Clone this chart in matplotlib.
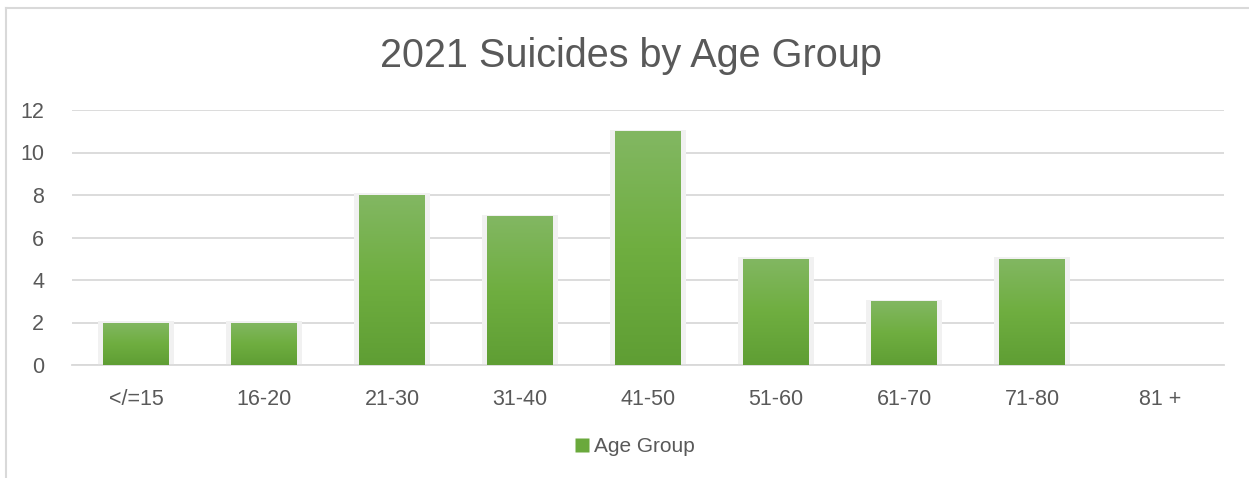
import numpy as np
import matplotlib
matplotlib.use('Agg')
import matplotlib.pyplot as plt
from matplotlib.colors import LinearSegmentedColormap
from matplotlib.patches import Rectangle
from matplotlib.lines import Line2D

# donnees
age_groups = ['</=15', '16-20', '21-30', '31-40', '41-50', '51-60', '61-70', '71-80', '81 +']
suicides = [2, 2, 8, 7, 11, 5, 3, 5, 0]
y_ticks = [0, 2, 4, 6, 8, 10, 12]

plt.rcParams['font.family'] = ['Liberation Sans', 'DejaVu Sans']

fig = plt.figure(figsize=(12.49, 4.78), dpi=100)
ax = fig.add_axes([72 / 1249, 113 / 478, 1152 / 1249, 255 / 478])

x = np.arange(len(age_groups))
bar_w = 0.51
green = LinearSegmentedColormap.from_list('g', ['#5f9e34', '#6fae40', '#82b762'])

bars = ax.bar(x, suicides, width=bar_w, color='none', zorder=3)
for b in bars:
    h = b.get_height()
    if h <= 0:
        continue
    x0 = b.get_x()
    # ombre legere
    ax.add_patch(Rectangle((x0 - 0.04, 0), bar_w + 0.08, h + 0.08,
                           facecolor='#f1f1f1', edgecolor='none', zorder=2))
    grad = np.linspace(0, 1, 100).reshape(-1, 1)
    im = ax.imshow(grad, cmap=green, aspect='auto', origin='lower',
                   extent=[x0, x0 + bar_w, 0, h], zorder=3)
    im.set_clip_path(b)

ax.set_xlim(-0.5, len(age_groups) - 0.5)
ax.set_ylim(0, 12)
ax.set_yticks(y_ticks)
ax.set_xticks(x)
ax.set_xticklabels(age_groups)
ax.grid(axis='y', color='#d9d9d9', linewidth=1.3, zorder=0)
ax.set_axisbelow(True)
for s in ['top', 'right', 'left']:
    ax.spines[s].set_visible(False)
ax.spines['bottom'].set_color('#d9d9d9')
ax.spines['bottom'].set_linewidth(1.3)
ax.tick_params(length=0, labelsize=15.5, labelcolor='#595959')
ax.tick_params(axis='y', pad=20)
ax.tick_params(axis='x', pad=17)

fig.text(0.505, 0.882, '2021 Suicides by Age Group', ha='center', va='center',
         fontsize=28.5, color='#595959')

handle = Line2D([], [], marker='s', linestyle='none', markersize=10,
                markerfacecolor='#6aa93c', markeredgecolor='none')
fig.legend([handle], ['Age Group'], loc='center', bbox_to_anchor=(0.507, 0.066),
           frameon=False, fontsize=15, labelcolor='#595959',
           handletextpad=0.1, handlelength=1.0)

# cadre du graphique
fig.add_artist(Line2D([6 / 1249, 1], [1 - 8 / 478, 1 - 8 / 478], color='#d9d9d9', lw=1.5))
fig.add_artist(Line2D([6 / 1249, 6 / 1249], [0, 1 - 8 / 478], color='#d9d9d9', lw=1.5))

fig.savefig('out.png', dpi=100)
